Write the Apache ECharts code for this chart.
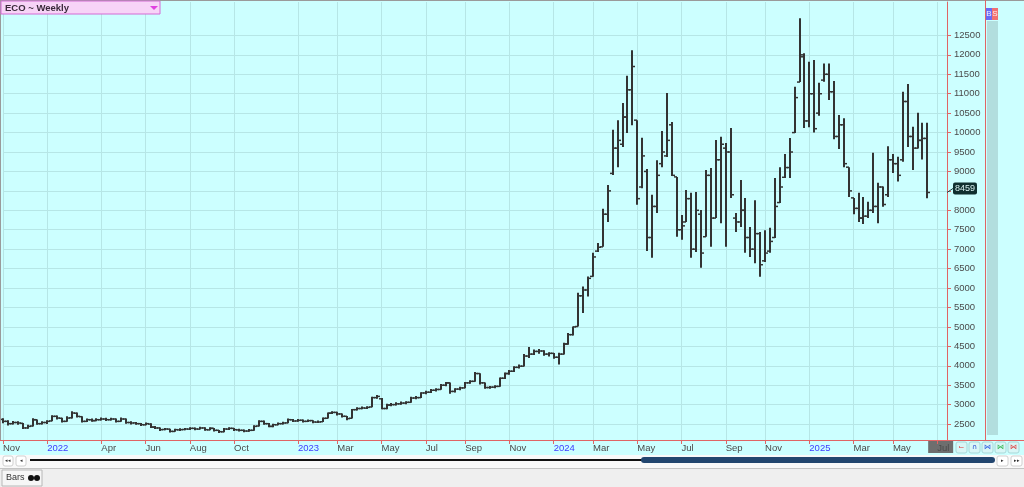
<!DOCTYPE html>
<html><head><meta charset="utf-8">
<script src="https://cdn.jsdelivr.net/npm/echarts@6/dist/echarts.min.js"></script>
<style>html,body{margin:0;padding:0;background:#ccffff;} #c{width:1024px;height:487px;}</style>
</head><body><div id="c"></div>
<script>
const chartTitle = 'ECO ~ Weekly';
const lastPrice = 8459;
const totalSlots = 193;
const monthTicks = [[0,'Nov'],[9,'2022'],[20,'Apr'],[29,'Jun'],[38,'Aug'],[47,'Oct'],[60,'2023'],[68,'Mar'],[77,'May'],[86,'Jul'],[94,'Sep'],[103,'Nov'],[112,'2024'],[120,'Mar'],[129,'May'],[138,'Jul'],[147,'Sep'],[155,'Nov'],[164,'2025'],[173,'Mar'],[181,'May'],[190,'Jul']];
const yTicks = [2500,3000,3500,4000,4500,5000,5500,6000,6500,7000,7500,8000,8500,9000,9500,10000,10500,11000,11500,12000,12500];

const opens = [2620,2570,2510,2540,2520,2400,2450,2610,2510,2540,
2580,2700,2650,2570,2660,2780,2690,2570,2610,2590,
2610,2630,2610,2630,2570,2630,2540,2530,2510,2480,
2500,2420,2400,2360,2370,2310,2350,2360,2370,2390,
2370,2400,2350,2390,2340,2300,2370,2390,2350,2340,
2320,2340,2450,2570,2510,2440,2480,2510,2530,2610,
2580,2600,2570,2590,2550,2560,2650,2780,2800,2760,
2700,2650,2870,2900,2910,2940,3180,3150,2900,2990,
3000,3020,3040,3060,3170,3180,3300,3320,3370,3390,
3500,3560,3340,3400,3430,3560,3600,3800,3560,3440,
3450,3470,3680,3800,3860,3960,3990,4250,4300,4370,
4380,4300,4320,4220,4300,4560,4800,5010,5800,5950,
6300,6950,7060,7900,8950,9600,9700,10400,11100,10320,
8600,9000,7300,8100,9200,9400,10200,8860,7500,7700,
8300,7000,7900,7320,8900,7800,9300,9600,9500,7800,
7700,8000,7300,7000,7400,6700,6950,7300,8200,8850,
9100,10000,11300,11950,10300,11000,10500,11350,11500,11050,
9900,10200,9110,8320,8050,7800,7850,8000,8100,8600,
8400,9300,9200,9300,10800,9900,9600,9800,9850];
const highs = [2650,2600,2580,2570,2530,2480,2650,2620,2570,2600,
2730,2720,2660,2700,2830,2800,2700,2640,2640,2650,
2670,2660,2660,2640,2670,2640,2570,2550,2530,2540,
2520,2450,2410,2400,2380,2380,2390,2400,2420,2410,
2430,2420,2420,2400,2350,2400,2420,2400,2380,2360,
2370,2470,2600,2590,2530,2510,2540,2560,2640,2630,
2630,2620,2620,2600,2590,2670,2800,2830,2820,2770,
2710,2890,2930,2950,2960,3200,3250,3170,3020,3040,
3060,3080,3090,3200,3220,3320,3360,3400,3420,3530,
3580,3570,3420,3460,3580,3630,3840,3810,3570,3480,
3500,3700,3830,3890,3990,4030,4300,4480,4420,4430,
4400,4350,4330,4335,4590,4841,5011,5880,6040,6296,
6905,7160,8040,8650,10070,10320,10760,11460,12120,10320,
9870,9060,8400,9290,10040,11020,10270,8860,7880,8520,
8450,8470,8010,9040,9090,9810,9890,9730,10120,7930,
8780,8320,7570,8260,7440,7490,7550,8830,9110,9450,
9860,11180,12940,12040,11820,11870,11280,11780,11780,11330,
10450,10370,9110,8320,8450,8340,8220,9480,8710,8610,
9650,9450,9380,11050,11250,10150,10510,10250,10250];
const lows = [2520,2460,2490,2480,2370,2380,2440,2480,2490,2500,
2570,2620,2540,2560,2640,2670,2540,2550,2560,2570,
2590,2580,2590,2540,2560,2510,2490,2480,2450,2470,
2400,2370,2320,2340,2280,2300,2320,2340,2350,2340,
2360,2330,2340,2310,2270,2290,2350,2320,2310,2290,
2300,2330,2440,2480,2420,2420,2470,2490,2520,2550,
2560,2540,2550,2520,2530,2550,2640,2760,2720,2670,
2600,2640,2850,2880,2890,2930,3150,2880,2880,2960,
2980,3000,3010,3050,3140,3170,3270,3300,3340,3380,
3470,3280,3310,3370,3420,3540,3590,3520,3410,3410,
3420,3460,3660,3770,3840,3930,3980,4200,4280,4310,
4260,4240,4180,4030,4290,4540,4780,5010,5355,5782,
6288,6930,7060,7700,8910,9110,9630,9990,10190,8140,
8570,6950,6780,7930,9110,9370,8880,7320,7240,7700,
6780,6930,6520,7320,7060,7800,7670,7060,8320,7440,
7570,6910,6800,6640,6290,6670,6910,7290,8190,8830,
8830,9990,11300,10120,10140,10000,10430,11310,10840,9830,
9580,9110,8340,7900,7700,7650,7800,7930,7670,8090,
8340,8960,8740,9250,9630,9040,9590,9310,8310];
const closes = [2570,2510,2540,2527,2400,2441,2613,2510,2540,2570,
2698,2655,2570,2655,2784,2698,2570,2613,2587,2613,
2630,2613,2630,2570,2630,2540,2527,2510,2484,2510,
2424,2399,2356,2373,2313,2356,2356,2373,2390,2373,
2399,2356,2390,2339,2304,2373,2390,2356,2339,2321,
2339,2441,2570,2510,2441,2484,2510,2527,2613,2578,
2596,2570,2587,2553,2553,2647,2780,2800,2760,2700,
2640,2870,2900,2914,2930,3180,3212,2900,2990,3000,
3020,3040,3060,3170,3180,3300,3320,3370,3390,3500,
3560,3340,3400,3430,3560,3600,3800,3560,3440,3450,
3470,3680,3800,3860,3960,3990,4250,4300,4370,4380,
4300,4320,4220,4300,4560,4800,5000,5800,5950,6250,
6800,7050,7900,8500,9600,9800,10400,11100,11700,8300,
9400,7300,8100,8900,9500,9800,8900,7500,7600,8300,
7000,8000,6900,8900,7800,9300,9700,9500,8400,7700,
8000,7300,7000,7400,6600,6900,7200,8100,8600,9100,
9500,10900,12000,10300,11000,10100,11000,11500,11050,9900,
10200,9200,8500,8050,7800,7850,8000,8100,8600,8150,
9300,9200,8900,10800,9900,9600,9800,9850,8459];

const tickMap = {};
monthTicks.forEach(t => { tickMap[t[0]] = t[1]; });
const categories = [];
for (let i = 0; i < totalSlots; i++) categories.push(tickMap[i] !== undefined ? tickMap[i] : '');
const isTick = (idx) => tickMap[idx] !== undefined;
const ohlc = closes.map((c, i) => [i, opens[i], highs[i], lows[i], c]);

const RED = '#e06464';
const FONT = 'Liberation Sans';

const chart = echarts.init(document.getElementById('c'), null, {renderer: 'canvas'});

function renderBar(params, api) {
  const i = api.value(0);
  const po = api.coord([i, api.value(1)]);
  const ph = api.coord([i, api.value(2)]);
  const pl = api.coord([i, api.value(3)]);
  const pc = api.coord([i, api.value(4)]);
  const x = Math.round(po[0]);
  let y1 = ph[1], y2 = pl[1];
  if (y2 - y1 < 2) { y2 = y1 + 2; }
  const st = {stroke: '#333333', lineWidth: 2};
  const st2 = {stroke: '#333333', lineWidth: 1.5};
  return {type: 'group', children: [
    {type: 'line', shape: {x1: x, y1: y1, x2: x, y2: y2}, style: st},
    {type: 'line', shape: {x1: x - 3, y1: po[1], x2: x, y2: po[1]}, style: st2},
    {type: 'line', shape: {x1: x, y1: pc[1], x2: x + 3, y2: pc[1]}, style: st2}
  ]};
}

const option = {
  animation: false,
  backgroundColor: '#ccffff',
  grid: {left: 3, right: 77, top: 2, bottom: 47, containLabel: false},
  xAxis: {
    type: 'category', data: categories, boundaryGap: false,
    axisLine: {show: true, lineStyle: {color: RED, width: 1}},
    axisTick: {show: true, interval: (idx) => isTick(idx), length: 4, lineStyle: {color: RED}},
    axisLabel: {
      interval: (idx) => isTick(idx), align: 'left', margin: 3, fontSize: 9.5, fontFamily: FONT,
      color: (v) => /^\d{4}$/.test(v) ? '#3c3cff' : '#4a4a4a'
    },
    splitLine: {show: true, interval: (idx) => isTick(idx), lineStyle: {color: '#b6e6e6', width: 1}}
  },
  yAxis: {
    type: 'value', position: 'right', min: 2090, max: 13360, scale: true,
    axisLine: {show: true, lineStyle: {color: RED, width: 1}},
    axisTick: {show: true, customValues: yTicks, length: 4, lineStyle: {color: RED}},
    axisLabel: {customValues: yTicks, margin: 7, fontSize: 9.5, fontFamily: FONT, color: '#4a4a4a',
      formatter: (v) => String(v)},
    splitLine: {show: true, lineStyle: {color: '#b6e6e6', width: 1}}
  },
  series: [{
    type: 'custom', renderItem: renderBar, data: ohlc,
    encode: {x: 0, y: [1, 2, 3, 4]}, z: 5
  }]
};
chart.setOption(option);

const yLast = chart.convertToPixel({yAxisIndex: 0}, lastPrice);
const xJul = chart.convertToPixel({xAxisIndex: 0}, 190);

const g = [
  {type: 'rect', shape: {x: 0, y: 0, width: 1024, height: 1}, style: {fill: '#9a9a9a'}, z: 20},
  {type: 'rect', shape: {x: 0, y: 0, width: 1, height: 441}, style: {fill: '#9a9a9a'}, z: 20},
  {type: 'line', shape: {x1: 0, y1: 440.5, x2: 1024, y2: 440.5}, style: {stroke: RED, lineWidth: 1}, z: 20},
  {type: 'line', shape: {x1: 985.5, y1: 0, x2: 985.5, y2: 440}, style: {stroke: RED, lineWidth: 1}, z: 20},
  {type: 'rect', shape: {x: 987, y: 21, width: 11, height: 414}, style: {fill: '#b2dede'}, z: 20},
  {type: 'rect', shape: {x: 986, y: 8, width: 6, height: 12}, style: {fill: '#6a6af5'}, z: 20},
  {type: 'rect', shape: {x: 992, y: 8, width: 6, height: 12}, style: {fill: '#f07070'}, z: 20},
  {type: 'text', x: 989, y: 14, style: {text: 'B', fill: '#eeeeff', fontSize: 8, fontFamily: FONT, align: 'center', verticalAlign: 'middle'}, z: 21},
  {type: 'text', x: 995, y: 14, style: {text: 'S', fill: '#ffeeee', fontSize: 8, fontFamily: FONT, align: 'center', verticalAlign: 'middle'}, z: 21},
  // title box
  {type: 'rect', shape: {x: 1, y: 1, width: 159, height: 13}, style: {fill: '#f7d4f7', stroke: '#d46ad4', lineWidth: 1}, z: 20},
  {type: 'text', x: 5, y: 8, style: {text: chartTitle, fill: '#3a2a3a', fontSize: 9.5, fontWeight: 'bold', fontFamily: FONT, verticalAlign: 'middle'}, z: 21},
  {type: 'polygon', shape: {points: [[150, 6], [158, 6], [154, 10]]}, style: {fill: '#e040e0'}, z: 21},
  // Jul highlight box
  {type: 'rect', shape: {x: xJul - 9, y: 441, width: 25, height: 12}, style: {fill: '#6e6e6e'}, z: -1},
  // last price label
  {type: 'line', shape: {x1: 947, y1: yLast, x2: 953, y2: yLast - 4}, style: {stroke: '#1e3c3c', lineWidth: 1}, z: 20},
  {type: 'rect', shape: {x: 953, y: yLast - 10, width: 24, height: 12, r: 2}, style: {fill: '#0f2f2f'}, z: 20},
  {type: 'text', x: 965, y: yLast - 4, style: {text: String(lastPrice), fill: '#d8f0f0', fontSize: 9, fontFamily: FONT, align: 'center', verticalAlign: 'middle'}, z: 21},
  // scroll row
  {type: 'rect', shape: {x: 0, y: 455, width: 1024, height: 13}, style: {fill: '#f9f9f9'}, z: 20},
  {type: 'rect', shape: {x: 3, y: 456, width: 10, height: 10, r: 2}, style: {fill: '#ffffff', stroke: '#d0d0d0'}, z: 21},
  {type: 'text', x: 8, y: 461, style: {text: '◂◂', fill: '#333', fontSize: 5, align: 'center', verticalAlign: 'middle'}, z: 22},
  {type: 'rect', shape: {x: 16, y: 456, width: 10, height: 10, r: 2}, style: {fill: '#ffffff', stroke: '#d0d0d0'}, z: 21},
  {type: 'text', x: 21, y: 461, style: {text: '◂', fill: '#333', fontSize: 5, align: 'center', verticalAlign: 'middle'}, z: 22},
  {type: 'rect', shape: {x: 30, y: 459, width: 612, height: 2}, style: {fill: '#111111'}, z: 21},
  {type: 'rect', shape: {x: 641, y: 457, width: 354, height: 6, r: 3}, style: {fill: '#22466f'}, z: 21},
  {type: 'rect', shape: {x: 997, y: 456, width: 11, height: 10, r: 2}, style: {fill: '#ffffff', stroke: '#d0d0d0'}, z: 21},
  {type: 'text', x: 1002.5, y: 461, style: {text: '▸', fill: '#333', fontSize: 5, align: 'center', verticalAlign: 'middle'}, z: 22},
  {type: 'rect', shape: {x: 1011, y: 456, width: 11, height: 10, r: 2}, style: {fill: '#ffffff', stroke: '#d0d0d0'}, z: 21},
  {type: 'text', x: 1016.5, y: 461, style: {text: '▸▸', fill: '#333', fontSize: 5, align: 'center', verticalAlign: 'middle'}, z: 22},
  // bottom tab row
  {type: 'rect', shape: {x: 0, y: 468, width: 1024, height: 19}, style: {fill: '#efefef'}, z: 20},
  {type: 'line', shape: {x1: 0, y1: 468.5, x2: 1024, y2: 468.5}, style: {stroke: '#c4c4c4', lineWidth: 1}, z: 21},
  {type: 'rect', shape: {x: 2, y: 470, width: 40, height: 16}, style: {fill: '#f6f6f6', stroke: '#b8b8b8', lineWidth: 1}, z: 21},
  {type: 'text', x: 6, y: 478, style: {text: 'Bars', fill: '#333', fontSize: 9, fontFamily: FONT, verticalAlign: 'middle'}, z: 22},
  {type: 'circle', shape: {cx: 31, cy: 478, r: 3}, style: {fill: '#111'}, z: 22},
  {type: 'circle', shape: {cx: 37, cy: 478, r: 3}, style: {fill: '#111'}, z: 22}
];
// right-side small tool icons
const iconColors = ['#e03030', '#2040d0', '#2050e0', '#20b040', '#e03030'];
const iconGlyphs = ['⌙', '∩', '⋈', '⋈', '⋈'];
iconColors.forEach((col, k) => {
  const x0 = 956 + k * 13;
  g.push({type: 'rect', shape: {x: x0, y: 442, width: 11, height: 11, r: 2}, style: {fill: '#d8f6f6', stroke: '#a8d8d8'}, z: 20});
  g.push({type: 'text', x: x0 + 5.5, y: 447.5, style: {text: iconGlyphs[k], fill: col, fontSize: 7, fontFamily: 'DejaVu Sans', align: 'center', verticalAlign: 'middle'}, z: 21});
});
chart.setOption({graphic: {elements: g}});
</script>
</body></html>
